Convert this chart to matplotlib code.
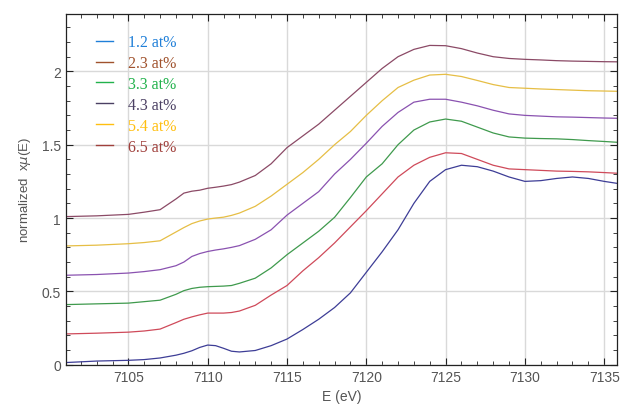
import matplotlib
matplotlib.use("Agg")
import matplotlib.pyplot as plt
from matplotlib.lines import Line2D
from matplotlib.ticker import MultipleLocator, FormatStrFormatter

# Data
energy = [7101.1, 7103, 7105, 7106, 7107, 7108, 7108.5, 7109, 7109.5, 7110,
          7110.5, 7111, 7111.5, 7112, 7113, 7114, 7115, 7116, 7117, 7118,
          7119, 7120, 7121, 7122, 7123, 7124, 7125, 7126, 7127, 7128,
          7129, 7130, 7131, 7132, 7133, 7134, 7135, 7135.9]

mu_12 = [0.015, 0.025, 0.03, 0.035, 0.046, 0.065, 0.078, 0.095, 0.118, 0.134,
         0.13, 0.112, 0.092, 0.087, 0.097, 0.13, 0.175, 0.24, 0.31, 0.39,
         0.49, 0.63, 0.77, 0.92, 1.10, 1.25, 1.33, 1.36, 1.35, 1.32,
         1.28, 1.25, 1.255, 1.27, 1.28, 1.27, 1.25, 1.235]
mu_23 = [0.21, 0.215, 0.222, 0.23, 0.243, 0.287, 0.31, 0.326, 0.34, 0.352,
         0.352, 0.352, 0.356, 0.366, 0.405, 0.475, 0.54, 0.64, 0.73, 0.83,
         0.94, 1.05, 1.165, 1.28, 1.36, 1.414, 1.445, 1.44, 1.40, 1.36,
         1.335, 1.33, 1.325, 1.32, 1.318, 1.315, 1.31, 1.305]
mu_33 = [0.41, 0.415, 0.42, 0.43, 0.44, 0.48, 0.505, 0.52, 0.528, 0.532,
         0.534, 0.536, 0.54, 0.555, 0.59, 0.66, 0.75, 0.83, 0.91, 1.005,
         1.14, 1.28, 1.37, 1.50, 1.60, 1.655, 1.675, 1.66, 1.62, 1.58,
         1.553, 1.545, 1.542, 1.54, 1.535, 1.528, 1.522, 1.516]
mu_43 = [0.61, 0.615, 0.625, 0.635, 0.648, 0.675, 0.70, 0.738, 0.758, 0.772,
         0.782, 0.79, 0.80, 0.812, 0.855, 0.92, 1.02, 1.10, 1.18, 1.30,
         1.40, 1.51, 1.625, 1.72, 1.79, 1.81, 1.81, 1.79, 1.765, 1.735,
         1.71, 1.70, 1.695, 1.69, 1.688, 1.685, 1.682, 1.68]
mu_54 = [0.81, 0.815, 0.825, 0.833, 0.845, 0.905, 0.935, 0.962, 0.98, 0.993,
         1.0, 1.006, 1.018, 1.034, 1.08, 1.15, 1.23, 1.31, 1.40, 1.50,
         1.59, 1.70, 1.80, 1.89, 1.94, 1.975, 1.98, 1.965, 1.938, 1.91,
         1.89, 1.885, 1.88, 1.876, 1.872, 1.868, 1.866, 1.864]
mu_65 = [1.01, 1.015, 1.025, 1.04, 1.057, 1.13, 1.17, 1.183, 1.19, 1.203,
         1.21, 1.218, 1.228, 1.245, 1.29, 1.37, 1.48, 1.56, 1.64, 1.735,
         1.83, 1.925, 2.02, 2.10, 2.15, 2.177, 2.175, 2.155, 2.125, 2.10,
         2.088, 2.082, 2.078, 2.073, 2.07, 2.068, 2.066, 2.065]

labels = ["1.2 at%", "2.3 at%", "3.3 at%", "4.3 at%", "5.4 at%", "6.5 at%"]
series = [mu_12, mu_23, mu_33, mu_43, mu_54, mu_65]
line_colors = ["#3d3d96", "#cf4a5a", "#3f9a4d", "#8a52b0", "#e6be45", "#8b4a66"]
legend_colors = ["#1f7fd8", "#a0522d", "#22b24c", "#4b4063", "#ffbf10", "#a0403c"]

fig = plt.figure(figsize=(6.2, 4.1), dpi=100)
ax = fig.add_axes([0.106, 0.108, 0.889, 0.855])

for vals, c in zip(series, line_colors):
    ax.plot(energy, vals, color=c, lw=0.9)

ax.set_xlim(7101.05, 7135.8)
ax.set_ylim(0, 2.39)

ax.xaxis.set_major_locator(MultipleLocator(5))
ax.xaxis.set_minor_locator(MultipleLocator(1))
ax.yaxis.set_major_locator(MultipleLocator(0.5))
ax.yaxis.set_minor_locator(MultipleLocator(0.1))
ax.yaxis.set_major_formatter(FormatStrFormatter("%g"))

ax.grid(True, which="major", color="#d9d9d9", lw=1.0)
ax.set_axisbelow(True)
ax.tick_params(which="both", direction="in", top=True, right=True,
               colors="#222222", labelcolor="#555555", labelsize=10)
ax.tick_params(which="major", length=5, width=0.8)
ax.tick_params(which="minor", length=3, width=0.6)
for lab in ax.get_xticklabels() + ax.get_yticklabels():
    lab.set_family("Liberation Sans")
for s in ax.spines.values():
    s.set_linewidth(0.9)
    s.set_color("#222222")

ax.set_xlabel("E (eV)", color="#555555", fontsize=10, family="Liberation Sans", labelpad=4)
ax.set_ylabel("normalized  x$\\mu$(E)", color="#555555", fontsize=9.5,
              family="Liberation Sans", labelpad=6)

handles = [Line2D([], [], color=c, lw=1.0) for c in legend_colors]
ax.legend(handles, labels, loc="upper left", bbox_to_anchor=(0.055, 0.943),
          frameon=False, prop={"family": "Liberation Serif", "size": 11.5},
          labelcolor=legend_colors, handlelength=1.06, handletextpad=0.95,
          labelspacing=0.31, borderpad=0, borderaxespad=0)

fig.savefig("out.png", dpi=100)
